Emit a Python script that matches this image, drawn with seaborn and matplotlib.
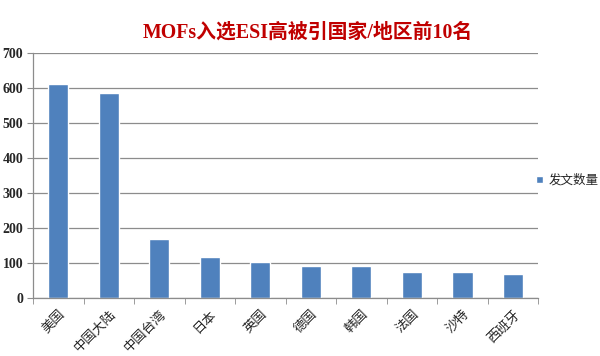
import matplotlib
matplotlib.use("Agg")
import matplotlib.pyplot as plt
from matplotlib.ticker import FixedLocator
import seaborn as sns
import pandas as pd
import numpy as np

# 数据
countries = ['美国', '中国大陆', '中国台湾', '日本', '英国', '德国', '韩国', '法国', '沙特', '西班牙']
papers = [612, 586, 169, 117, 103, 91, 91, 74, 74, 69]
series_name = '发文数量'
y_ticks = [0, 100, 200, 300, 400, 500, 600, 700]

df = pd.DataFrame({'country': countries, 'n': papers, 'serie': series_name})

sns.set_style('white')
plt.rcParams['font.family'] = ['Noto Sans CJK SC', 'DejaVu Sans']

fig = plt.figure(figsize=(6, 3.56), dpi=100)
ax = fig.add_axes([0.055, 0.163, 0.842, 0.688])

bleu = '#4F81BD'
sns.barplot(data=df, x='country', y='n', hue='serie', palette=[bleu],
            width=0.4, ax=ax, saturation=1, legend=True)

ax.set_ylim(0, 700)
ax.set_xlim(-0.5, len(countries) - 0.5)
ax.set_yticks(y_ticks)
ax.yaxis.grid(True, color='#8c8c8c', linewidth=0.9)
ax.set_axisbelow(True)
ax.set_xlabel('')
ax.set_ylabel('')

for s in ['top', 'right']:
    ax.spines[s].set_visible(False)
for s in ['left', 'bottom']:
    ax.spines[s].set_color('#8c8c8c')
    ax.spines[s].set_linewidth(0.9)

# étiquettes y en gras style Times
for lab in ax.get_yticklabels():
    lab.set_family(['Liberation Serif', 'Noto Sans CJK SC'])
    lab.set_fontweight('bold')
    lab.set_fontsize(10)
ax.tick_params(axis='y', length=4, color='#8c8c8c', direction='out', pad=3, left=True)

# étiquettes x tournées
ax.set_xticks(range(len(countries)))
ax.set_xticklabels(countries, rotation=45, ha='right', rotation_mode='anchor', fontsize=9.5)
ax.tick_params(axis='x', which='major', length=0, pad=7)
ax.xaxis.set_minor_locator(FixedLocator(np.arange(-0.5, len(countries), 1.0)))
ax.tick_params(axis='x', which='minor', length=4, color='#8c8c8c', direction='out', bottom=True)

# titre
fig.text(0.513, 0.908, 'MOFs入选ESI高被引国家/地区前10名', ha='center', va='center',
         color='#C00000', fontsize=14.3, fontweight='bold',
         family=['Liberation Serif', 'Noto Sans CJK SC'])

# légende
leg = ax.legend(loc='center left', bbox_to_anchor=(0.995, 0.48), frameon=False,
                borderaxespad=0, borderpad=0,
                handlelength=0.55, handleheight=0.55, handletextpad=0.45, fontsize=9)

fig.savefig('out.png', dpi=100)
